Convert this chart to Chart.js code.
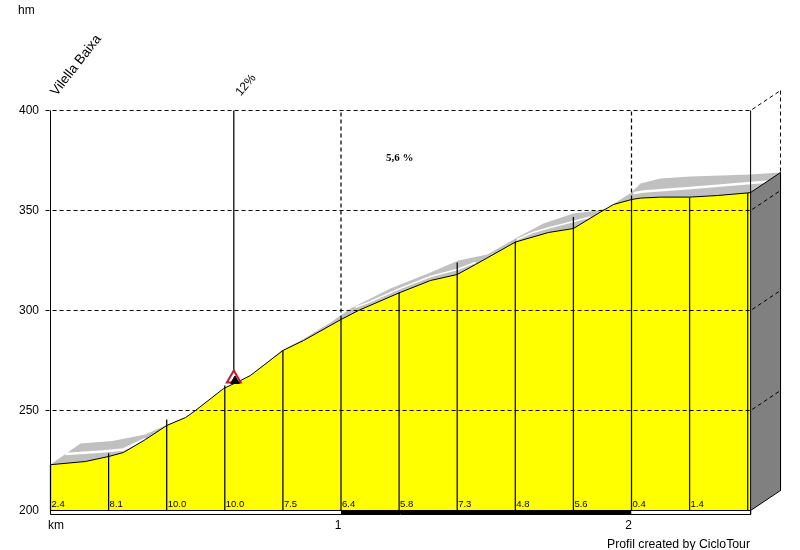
<!DOCTYPE html>
<html lang="en">
<head>
    <meta charset="UTF-8">
    <title>Vilella Baixa profile</title>
    <script src="https://cdn.jsdelivr.net/npm/chart.js"></script>
    <style>
        html, body { margin: 0; background: #fff; }
        canvas { display: block; }
    </style>
</head>
<body>
    <canvas id="profile" width="800" height="550"></canvas>

    <script>
        // distance in km, altitude as printed on the axis
        const profileKm = [0, 0.12, 0.2, 0.251, 0.327, 0.4, 0.465, 0.499, 0.596, 0.654, 0.688, 0.8, 0.871, 1.0, 1.06, 1.2, 1.308, 1.4, 1.463, 1.6, 1.714, 1.8, 1.893, 1.938, 2.0, 2.031, 2.1, 2.2, 2.296, 2.4, 2.41];
        const profileHm = [222.9, 224.5, 227, 229, 235.5, 242.5, 246.5, 250, 261, 265, 267.5, 280, 285, 295.5, 300, 308.8, 315, 318, 323, 334.2, 339, 341, 349.2, 353, 355.5, 356.2, 356.7, 356.7, 357.5, 358.8, 359];

        // grey road band above the profile
        const bandKm = [0, 0.103, 0.213, 0.327, 0.372, 0.413, 0.465, 0.688, 0.799, 0.871, 0.964, 1.033, 1.17, 1.308, 1.404, 1.504, 1.6, 1.697, 1.8, 1.883, 1.917, 1.938, 2.0, 2.031, 2.1, 2.203, 2.41];
        const bandHm = [223, 233.5, 234.8, 238, 241, 243.5, 246.5, 267.5, 280.3, 285.8, 294, 301, 311, 319, 325, 328, 336, 343.5, 348.5, 350, 351.2, 353.2, 359, 363.5, 366, 367, 368];
        const bandEndKm = [2.41, 2.513];
        const bandEndHm = [368, 369];

        // white stripes inside the band
        const stripeLeftKm = [0.052, 0.179, 0.251, 0.327];
        const stripeLeftHm = [228.2, 229.5, 230.5, 235.8];
        const stripeMidKm = [1.05, 1.094, 1.2, 1.308, 1.4, 1.463];
        const stripeMidHm = [301.6, 304, 310.8, 317, 320.5, 324];
        const stripeUpperKm = [1.606, 1.66, 1.72, 1.8, 1.859];
        const stripeUpperHm = [335.5, 339, 341.5, 344.5, 346.7];
        const stripeRightKm = [2.007, 2.041, 2.203, 2.41, 2.48];
        const stripeRightHm = [358.6, 359.5, 361.2, 363.7, 364.5];

        // vertical marks every 200 m, with the gradient of the following stretch
        const markKm = [0, 0.2, 0.4, 0.6, 0.8, 1.0, 1.2, 1.4, 1.6, 1.8, 2.0, 2.2, 2.4];
        const markTop = [222.9, 228.6, 245.5, 262.5, 280, 295.5, 309, 324, 334.5, 346.7, 355.5, 356.5, 358.8];
        const gradeKm = [0, 0.2, 0.4, 0.6, 0.8, 1.0, 1.2, 1.4, 1.6, 1.8, 2.0, 2.2];
        const gradeLabels = ['2.4', '8.1', '10.0', '10.0', '7.5', '6.4', '5.8', '7.3', '4.8', '5.6', '0.4', '1.4'];

        const yTicks = [200, 250, 300, 350, 400];
        const xTicks = [1, 2];
        const gridLevels = [250, 300, 350, 400];
        const dashedKm = [1, 2];
        const dashedTop = [295.5, 355.5];

        const endKm = 2.41;      // last point of the profile
        const depthKm = 2.513;   // back of the 3d box
        const depthHm = 10;      // rise of the box going back
        const signKm = 0.631;    // 12% sign
        const signHm = 266;

        const ink = '#000';

        function line(xs, ys, extra) {
            return Object.assign({
                showLine: true,
                clip: false,
                data: xs.map((x, i) => ({ x: x, y: ys[i] })),
                borderColor: ink,
                borderWidth: 1,
                pointRadius: 0,
                fill: false,
                tension: 0
            }, extra || {});
        }

        // listed from the back to the front
        const layers = [
            line(bandKm, bandHm, { borderWidth: 0, fill: { value: 200 }, backgroundColor: '#c0c0c0' }),
            line(bandEndKm, bandEndHm, { borderWidth: 0, fill: { value: 355 }, backgroundColor: '#c0c0c0' }),
            line(stripeLeftKm, stripeLeftHm, { borderColor: '#fff', borderWidth: 2.5 }),
            line(stripeMidKm, stripeMidHm, { borderColor: '#fff', borderWidth: 1.5 }),
            line(stripeUpperKm, stripeUpperHm, { borderColor: '#fff', borderWidth: 1.5 }),
            line(stripeRightKm, stripeRightHm, { borderColor: '#fff', borderWidth: 2.5 }),
            line(profileKm, profileHm, { fill: { value: 200 }, backgroundColor: '#ffff00' }),
            line([endKm, depthKm], [359, 369], { fill: '+1', backgroundColor: '#808080' }),
            line([endKm, depthKm], [200, 200 + depthHm])
        ];

        // box edges
        layers.push(line([depthKm, depthKm], [369, 200 + depthHm]));
        layers.push(line([depthKm, depthKm], [400 + depthHm, 369], { borderDash: [4, 3] }));
        layers.push(line([0, 0], [200, 400]));
        layers.push(line([endKm, endKm], [200, 400]));

        gridLevels.forEach(level => {
            layers.push(line([-0.017, endKm, depthKm], [level, level, level + depthHm], { borderDash: [4, 3] }));
        });
        dashedKm.forEach((km, i) => {
            layers.push(line([km, km], [dashedTop[i], 400], { borderDash: [4, 3], borderWidth: 1.25 }));
        });
        markKm.forEach((km, i) => {
            layers.push(line([km, km], [200, markTop[i]], { borderWidth: 1.25 }));
        });

        // distance strip under the profile
        layers.push(line([1, 2], [200, 200], { borderWidth: 0, fill: { value: 198 }, backgroundColor: ink }));
        layers.push(line([0, endKm, endKm, 0, 0], [200, 200, 198, 198, 200]));

        // sign with its stem
        layers.push(line([signKm, signKm], [signHm, 400], { borderWidth: 1.25 }));
        layers.push(line([signKm], [signHm], {
            pointRadius: 8, pointStyle: 'triangle',
            pointBackgroundColor: '#fff', pointBorderColor: '#c0182c', pointBorderWidth: 2
        }));
        layers.push(line([signKm + 0.004], [signHm - 1.2], {
            pointRadius: 5, pointStyle: 'triangle',
            pointBackgroundColor: ink, pointBorderColor: ink, pointBorderWidth: 1
        }));

        const datasets = layers.map((d, i) => Object.assign(d, { order: layers.length - i }));

        const textPlugin = {
            id: 'profileTexts',
            afterDraw(chart) {
                const ctx = chart.ctx;
                const x = chart.scales.x;
                const y = chart.scales.y;

                function text(str, px, py, font, angle) {
                    ctx.save();
                    ctx.translate(px, py);
                    if (angle) ctx.rotate(angle * Math.PI / 180);
                    ctx.font = font;
                    ctx.fillStyle = ink;
                    ctx.textAlign = 'left';
                    ctx.textBaseline = 'alphabetic';
                    ctx.fillText(str, 0, 0);
                    ctx.restore();
                }

                const sans = '"Liberation Sans", Arial, sans-serif';
                text('hm', 18, 14, '12px ' + sans);
                text('km', 48, 529, '12px ' + sans);
                text('Vilella Baixa', x.getPixelForValue(0) + 6, y.getPixelForValue(400) - 14, '13.5px ' + sans, -52);
                text('12%', x.getPixelForValue(signKm) + 7, y.getPixelForValue(400) - 14, '12px ' + sans, -50);
                text('5,6 %', 386, 161, 'bold 11px "Liberation Serif", serif');
                text('Profil created by CicloTour', 607, 548, '12.25px ' + sans);

                gradeLabels.forEach((label, i) => {
                    text(label, x.getPixelForValue(gradeKm[i]) + 1, y.getPixelForValue(200) - 3.5, '9.5px ' + sans);
                });
            }
        };

        new Chart(document.getElementById('profile').getContext('2d'), {
            type: 'scatter',
            data: { datasets: datasets },
            plugins: [textPlugin],
            options: {
                responsive: false,
                devicePixelRatio: 1,
                animation: false,
                layout: { padding: { top: 90, right: 20, left: 0, bottom: 0 } },
                plugins: { legend: { display: false }, tooltip: { enabled: false } },
                scales: {
                    x: {
                        type: 'linear',
                        min: -0.02238,
                        max: 2.5112,
                        afterFit: s => { s.height = 36; },
                        afterBuildTicks: s => { s.ticks = xTicks.map(v => ({ value: v })); },
                        grid: { display: false, drawTicks: false },
                        border: { display: false },
                        ticks: {
                            autoSkip: false,
                            maxRotation: 0,
                            padding: 4,
                            labelOffset: -3,
                            color: ink,
                            font: { family: '"Liberation Sans", Arial, sans-serif', size: 12 },
                            callback: v => String(v)
                        }
                    },
                    y: {
                        min: 198.25,
                        max: 410.25,
                        afterFit: s => { s.width = 44; },
                        afterBuildTicks: s => { s.ticks = yTicks.map(v => ({ value: v })); },
                        grid: { display: false, drawTicks: false },
                        border: { display: false },
                        ticks: {
                            padding: 5,
                            color: ink,
                            font: { family: '"Liberation Sans", Arial, sans-serif', size: 12 },
                            callback: v => String(v)
                        }
                    }
                }
            }
        });
    </script>
</body>
</html>
